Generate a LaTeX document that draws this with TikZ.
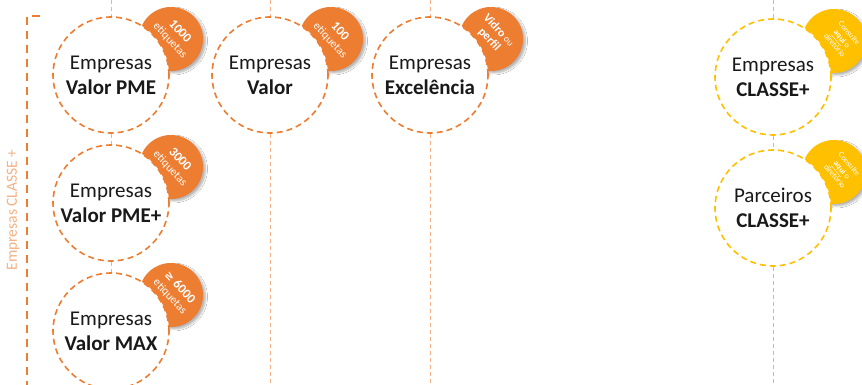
\documentclass[tikz,border=0pt]{standalone}
\usepackage{fontspec}
\setmainfont{Carlito}
\newfontfamily\symfont{DejaVu Sans}
\usetikzlibrary{shadows.blur}
\definecolor{orng}{HTML}{ED7D31}
\definecolor{lorng}{HTML}{F4B183}
\definecolor{ylw}{HTML}{FFC000}
\begin{document}
\begin{tikzpicture}[x=1pt,y=-1pt,
 bubble/.style={circle, minimum size=116pt, inner sep=0pt, fill=white, draw=orng, line width=1.6pt, dash pattern=on 6pt off 4pt, align=center, font=\fontsize{21}{25}\selectfont, text=black!90},
 ybubble/.style={bubble, draw=ylw},
 badge/.style={circle, minimum size=64pt, inner sep=0pt, fill=orng, blur shadow={shadow xshift=2.5pt, shadow yshift=-2pt, shadow blur steps=6, shadow opacity=30}},
 ybadge/.style={badge, fill=ylw},
 btext/.style={text=white, rotate=-47, align=center, inner sep=0pt, font=\fontsize{11.5}{13}\selectfont},
 ytext/.style={text=white, rotate=-50, align=center, inner sep=0pt, font=\fontsize{8}{9.5}\selectfont},
 vline/.style={draw=lorng, line width=0.9pt, dash pattern=on 4pt off 3pt},
 yline/.style={draw=ylw, line width=0.9pt, dash pattern=on 4pt off 3pt},
 bracket/.style={draw=orng, line width=2pt, dash pattern=on 8pt off 6pt},
]
\useasboundingbox[fill=white] (0,0) rectangle (862,385);

% coordinates for free line ends
\coordinate (top1) at (111,0);
\coordinate (top4) at (270,0);
\coordinate (top5) at (430,0);
\coordinate (top6) at (773,0);
\coordinate (bot4) at (270,385);
\coordinate (bot5) at (430,385);
\coordinate (bot7) at (773,385);
\coordinate (bk1) at (40,16);
\coordinate (bk2) at (27,16);
\coordinate (bk3) at (27,385);

% badges (behind circles)
\node[badge] (b1) at (171,39) {};
\node[badge] (b2) at (171,167) {};
\node[badge] (b3) at (171,295) {};
\node[badge] (b4) at (331,39) {};
\node[badge] (b5) at (491,39) {};
\node[ybadge] (b6) at (834,41) {};
\node[ybadge] (b7) at (834,172) {};

% circles
\node[bubble] (c1) at (111,75) {Empresas\\\textbf{Valor PME}};
\node[bubble] (c2) at (111,203) {Empresas\\\textbf{Valor PME+}};
\node[bubble] (c3) at (111,331) {Empresas\\\textbf{Valor MAX}};
\node[bubble] (c4) at (270,75) {Empresas\\\textbf{Valor}};
\node[bubble] (c5) at (430,75) {Empresas\\\textbf{Excelência}};
\node[ybubble] (c6) at (773,77) {Empresas\\\textbf{CLASSE+}};
\node[ybubble] (c7) at (773,208) {Parceiros\\\textbf{CLASSE+}};

% connectors
\draw[vline] (top1) -- (c1);
\draw[vline] (c1) -- (c2);
\draw[vline] (c2) -- (c3);
\draw[vline] (top4) -- (c4);
\draw[vline] (c4) -- (bot4);
\draw[vline] (top5) -- (c5);
\draw[vline] (c5) -- (bot5);
\draw[yline] (top6) -- (c6);
\draw[yline] (c6) -- (c7);
\draw[yline] (c7) -- (bot7);

% bracket and label
\draw[bracket] (bk1) -- (bk2) -- (bk3);
\node[rotate=90, text=lorng, inner sep=0pt, font=\fontsize{15.5}{18}\selectfont] (lbl) at (13,210) {Empresas CLASSE +};

% badge texts
\node[btext] (t1) at (175,36) {{\bfseries\fontsize{13}{13}\selectfont 1000}\\etiquetas};
\node[btext] (t2) at (175,164) {{\bfseries\fontsize{13}{13}\selectfont 3000}\\etiquetas};
\node[btext] (t3) at (175,292) {{\bfseries\fontsize{13}{13}\selectfont{\symfont\fontsize{11}{13}\selectfont ≥} 6000}\\etiquetas};
\node[btext] (t4) at (335,36) {{\bfseries\fontsize{13}{13}\selectfont 100}\\etiquetas};
\node[btext] (t5) at (494,35) {{\bfseries\fontsize{12}{14}\selectfont Vidro} {\fontsize{9.5}{14}\selectfont ou}\\{\bfseries\fontsize{12}{14}\selectfont perfil}};
\node[ytext] (t6) at (842,39) {Consulte\\\textbf{\underline{aqui}} o\\diretório};
\node[ytext] (t7) at (842,170) {Consulte\\\textbf{\underline{aqui}} o\\diretório};
\end{tikzpicture}
\end{document}
